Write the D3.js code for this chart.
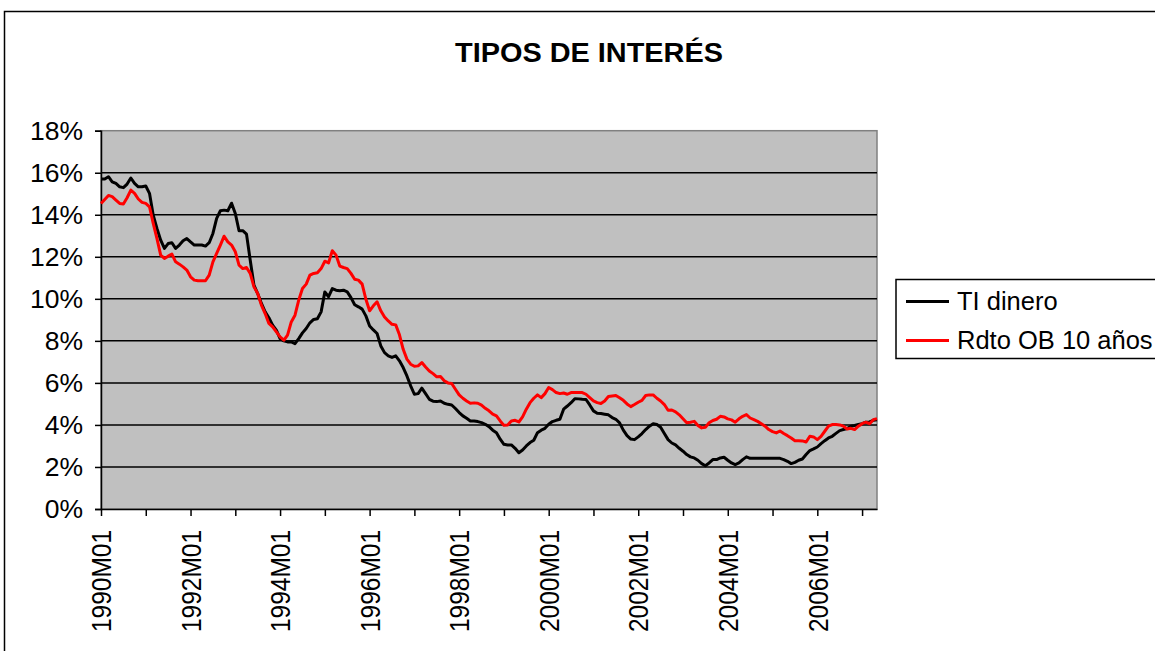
<!DOCTYPE html>
<html>
<head>
<meta charset="utf-8">
<script src="https://cdn.jsdelivr.net/npm/d3@7"></script>
<style>
  html, body { margin: 0; padding: 0; background: #fff; }
  svg { display: block; font-family: "Liberation Sans", Arial, sans-serif; }
</style>
</head>
<body>
<svg id="chart" width="1155" height="651"></svg>
<script>
// ---- DATA ----
const title = "TIPOS DE INTERÉS";
const seriesNames = ["TI dinero", "Rdto OB 10 años"];
const seriesColors = ["#000000", "#ff0000"];
const startYear = 1990;
const monthCount = 209; // 1990M01 .. 2007M05
const categories = [];
for (let k = 0; k < monthCount; k++) {
  const y = startYear + Math.floor(k / 12), m = (k % 12) + 1;
  categories.push(y + "M" + (m < 10 ? "0" + m : m));
}
const yTicks = [0, 2, 4, 6, 8, 10, 12, 14, 16, 18];
const xLabelEvery = 24;
const xTickEvery = 12;

const tiDinero = [
15.70,15.70,15.81,15.57,15.49,15.33,15.29,15.46,15.75,15.49,15.33,15.33,
15.37,15.02,13.98,13.35,12.79,12.40,12.63,12.67,12.40,12.56,12.76,12.87,
12.71,12.56,12.56,12.56,12.51,12.67,13.11,13.83,14.19,14.22,14.19,14.55,
14.06,13.24,13.24,13.08,11.84,10.65,10.25,9.78,9.38,9.10,8.75,8.51,
8.11,8.00,7.95,7.95,7.87,8.11,8.38,8.59,8.86,9.02,9.05,9.38,
10.33,10.10,10.49,10.41,10.38,10.41,10.33,10.06,9.72,9.62,9.51,9.19,
8.71,8.52,8.35,7.76,7.44,7.29,7.21,7.29,7.05,6.73,6.33,5.86,
5.46,5.49,5.75,5.49,5.22,5.13,5.11,5.14,5.03,4.98,4.95,4.78,
4.59,4.43,4.32,4.19,4.19,4.16,4.11,4.03,3.92,3.75,3.63,3.32,
3.08,3.05,3.05,2.89,2.68,2.81,3.00,3.16,3.27,3.63,3.75,3.84,
4.03,4.16,4.22,4.27,4.75,4.90,5.06,5.25,5.24,5.22,5.21,4.95,
4.67,4.56,4.54,4.51,4.48,4.35,4.27,4.10,3.75,3.49,3.33,3.30,
3.43,3.59,3.78,3.94,4.06,4.02,3.89,3.59,3.30,3.14,3.05,2.89,
2.75,2.59,2.48,2.43,2.32,2.16,2.06,2.19,2.35,2.35,2.43,2.46,
2.32,2.19,2.11,2.19,2.35,2.48,2.41,2.41,2.41,2.41,2.41,2.41,
2.41,2.41,2.41,2.35,2.27,2.16,2.22,2.32,2.38,2.59,2.78,2.86,
2.95,3.11,3.25,3.38,3.46,3.60,3.73,3.78,3.83,3.94,3.97,4.02,
4.06,4.13,4.14,4.22,4.25
];

const rdtoOB10 = [
14.54,14.73,14.92,14.86,14.70,14.54,14.51,14.81,15.17,15.02,14.75,14.59,
14.54,14.38,13.59,12.87,12.08,11.92,12.03,12.13,11.76,11.65,11.52,11.37,
11.05,10.89,10.86,10.86,10.86,11.13,11.76,12.16,12.56,12.98,12.71,12.56,
12.24,11.60,11.44,11.49,11.21,10.57,10.25,9.70,9.30,8.83,8.67,8.43,
8.19,8.03,8.27,8.90,9.22,9.94,10.49,10.70,11.13,11.21,11.24,11.44,
11.79,11.71,12.29,12.08,11.56,11.49,11.44,11.21,10.93,10.89,10.70,9.98,
9.43,9.67,9.86,9.43,9.14,8.95,8.79,8.76,8.29,7.60,7.13,6.89,
6.79,6.81,6.97,6.76,6.57,6.44,6.29,6.30,6.10,6.00,5.97,5.70,
5.43,5.27,5.14,5.03,5.05,5.03,4.94,4.79,4.67,4.51,4.43,4.19,
3.98,4.00,4.19,4.22,4.14,4.38,4.75,5.06,5.27,5.43,5.30,5.49,
5.78,5.68,5.54,5.49,5.52,5.46,5.54,5.54,5.54,5.54,5.46,5.30,
5.14,5.06,5.02,5.14,5.35,5.38,5.40,5.29,5.17,5.00,4.87,4.97,
5.08,5.17,5.40,5.43,5.43,5.27,5.14,4.97,4.70,4.71,4.62,4.48,
4.29,4.10,4.13,4.17,3.97,3.86,3.89,4.10,4.21,4.27,4.41,4.38,
4.29,4.24,4.13,4.29,4.41,4.49,4.33,4.25,4.17,4.06,3.94,3.78,
3.68,3.62,3.71,3.59,3.49,3.38,3.25,3.25,3.24,3.19,3.46,3.43,
3.30,3.46,3.70,3.94,4.02,4.02,4.00,3.94,3.81,3.84,3.78,3.94,
4.06,4.13,4.06,4.25,4.30
];

// ---- LAYOUT ----
const svg = d3.select("#chart");
const plot = { left: 101, right: 877, top: 130.7, bottom: 509 };

// chart area border
svg.append("rect").attr("x", 4.5).attr("y", 11.5).attr("width", 1170).attr("height", 660)
  .attr("fill", "#fff").attr("stroke", "#000").attr("stroke-width", 1.5);

// title
svg.append("text").attr("x", 589).attr("y", 62).attr("text-anchor", "middle")
  .attr("font-weight", "bold").attr("font-size", 27)
  .attr("textLength", 268).attr("lengthAdjust", "spacingAndGlyphs")
  .text(title);

const x = d3.scalePoint().domain(categories).range([plot.left, plot.right]).padding(0);
const y = d3.scaleLinear().domain([0, 18]).range([plot.bottom, plot.top]);

// plot background
svg.append("rect").attr("x", plot.left).attr("y", plot.top)
  .attr("width", plot.right - plot.left).attr("height", plot.bottom - plot.top)
  .attr("fill", "#c0c0c0").attr("stroke", "#808080").attr("stroke-width", 1.5);

// gridlines
svg.append("g").selectAll("line").data(yTicks.filter(d => d > 0 && d < 18)).join("line")
  .attr("x1", plot.left).attr("x2", plot.right)
  .attr("y1", d => y(d)).attr("y2", d => y(d))
  .attr("stroke", "#000").attr("stroke-width", 1.5);

// y axis
const yAxis = d3.axisLeft(y).tickValues(yTicks).tickFormat(d => d + "%").tickSize(6).tickPadding(12);
const gy = svg.append("g").attr("transform", `translate(${plot.left},0)`).call(yAxis);
gy.select(".domain").attr("stroke", "#000").attr("stroke-width", 1.5);
gy.selectAll(".tick line").attr("stroke", "#000").attr("stroke-width", 1.5);
gy.selectAll(".tick text").attr("font-size", 26.5).attr("fill", "#000")
  .attr("font-family", "'Liberation Sans', Arial, sans-serif");

// x axis
const xAxis = d3.axisBottom(x)
  .tickValues(categories.filter((c, i) => i % xTickEvery === 0))
  .tickFormat((c) => categories.indexOf(c) % xLabelEvery === 0 ? c : "")
  .tickSize(7).tickSizeOuter(0);
const gx = svg.append("g").attr("transform", `translate(0,${plot.bottom})`).call(xAxis);
gx.select(".domain").attr("stroke", "#000").attr("stroke-width", 1.5);
gx.selectAll(".tick line").attr("stroke", "#000").attr("stroke-width", 1.5);
gx.selectAll(".tick text")
  .attr("font-size", 27).attr("fill", "#000")
  .attr("font-family", "'Liberation Sans', Arial, sans-serif")
  .attr("text-anchor", "end")
  .attr("transform", "translate(0,21) rotate(-90)")
  .attr("x", 0).attr("y", 0).attr("dy", "0.36em")
  .each(function () { if (this.textContent) d3.select(this).attr("textLength", 102).attr("lengthAdjust", "spacingAndGlyphs"); });

// lines
const series = [tiDinero, rdtoOB10];
const line = d3.line().x((d, i) => x(categories[i])).y(d => y(d));
series.forEach((s, k) => {
  svg.append("path").datum(s).attr("d", line)
    .attr("fill", "none").attr("stroke", seriesColors[k])
    .attr("stroke-width", 3).attr("stroke-linejoin", "round");
});

// legend
const lg = svg.append("g");
lg.append("rect").attr("x", 896).attr("y", 279.5).attr("width", 270).attr("height", 79)
  .attr("fill", "#fff").attr("stroke", "#000").attr("stroke-width", 1.5);
const legendY = [301.5, 340.5];
seriesNames.forEach((n, k) => {
  lg.append("line").attr("x1", 906).attr("x2", 949).attr("y1", legendY[k]).attr("y2", legendY[k])
    .attr("stroke", seriesColors[k]).attr("stroke-width", 3);
  lg.append("text").attr("x", 957).attr("y", legendY[k] + 8.5)
    .attr("font-size", 25.5).attr("fill", "#000").text(n);
});
</script>
</body>
</html>
